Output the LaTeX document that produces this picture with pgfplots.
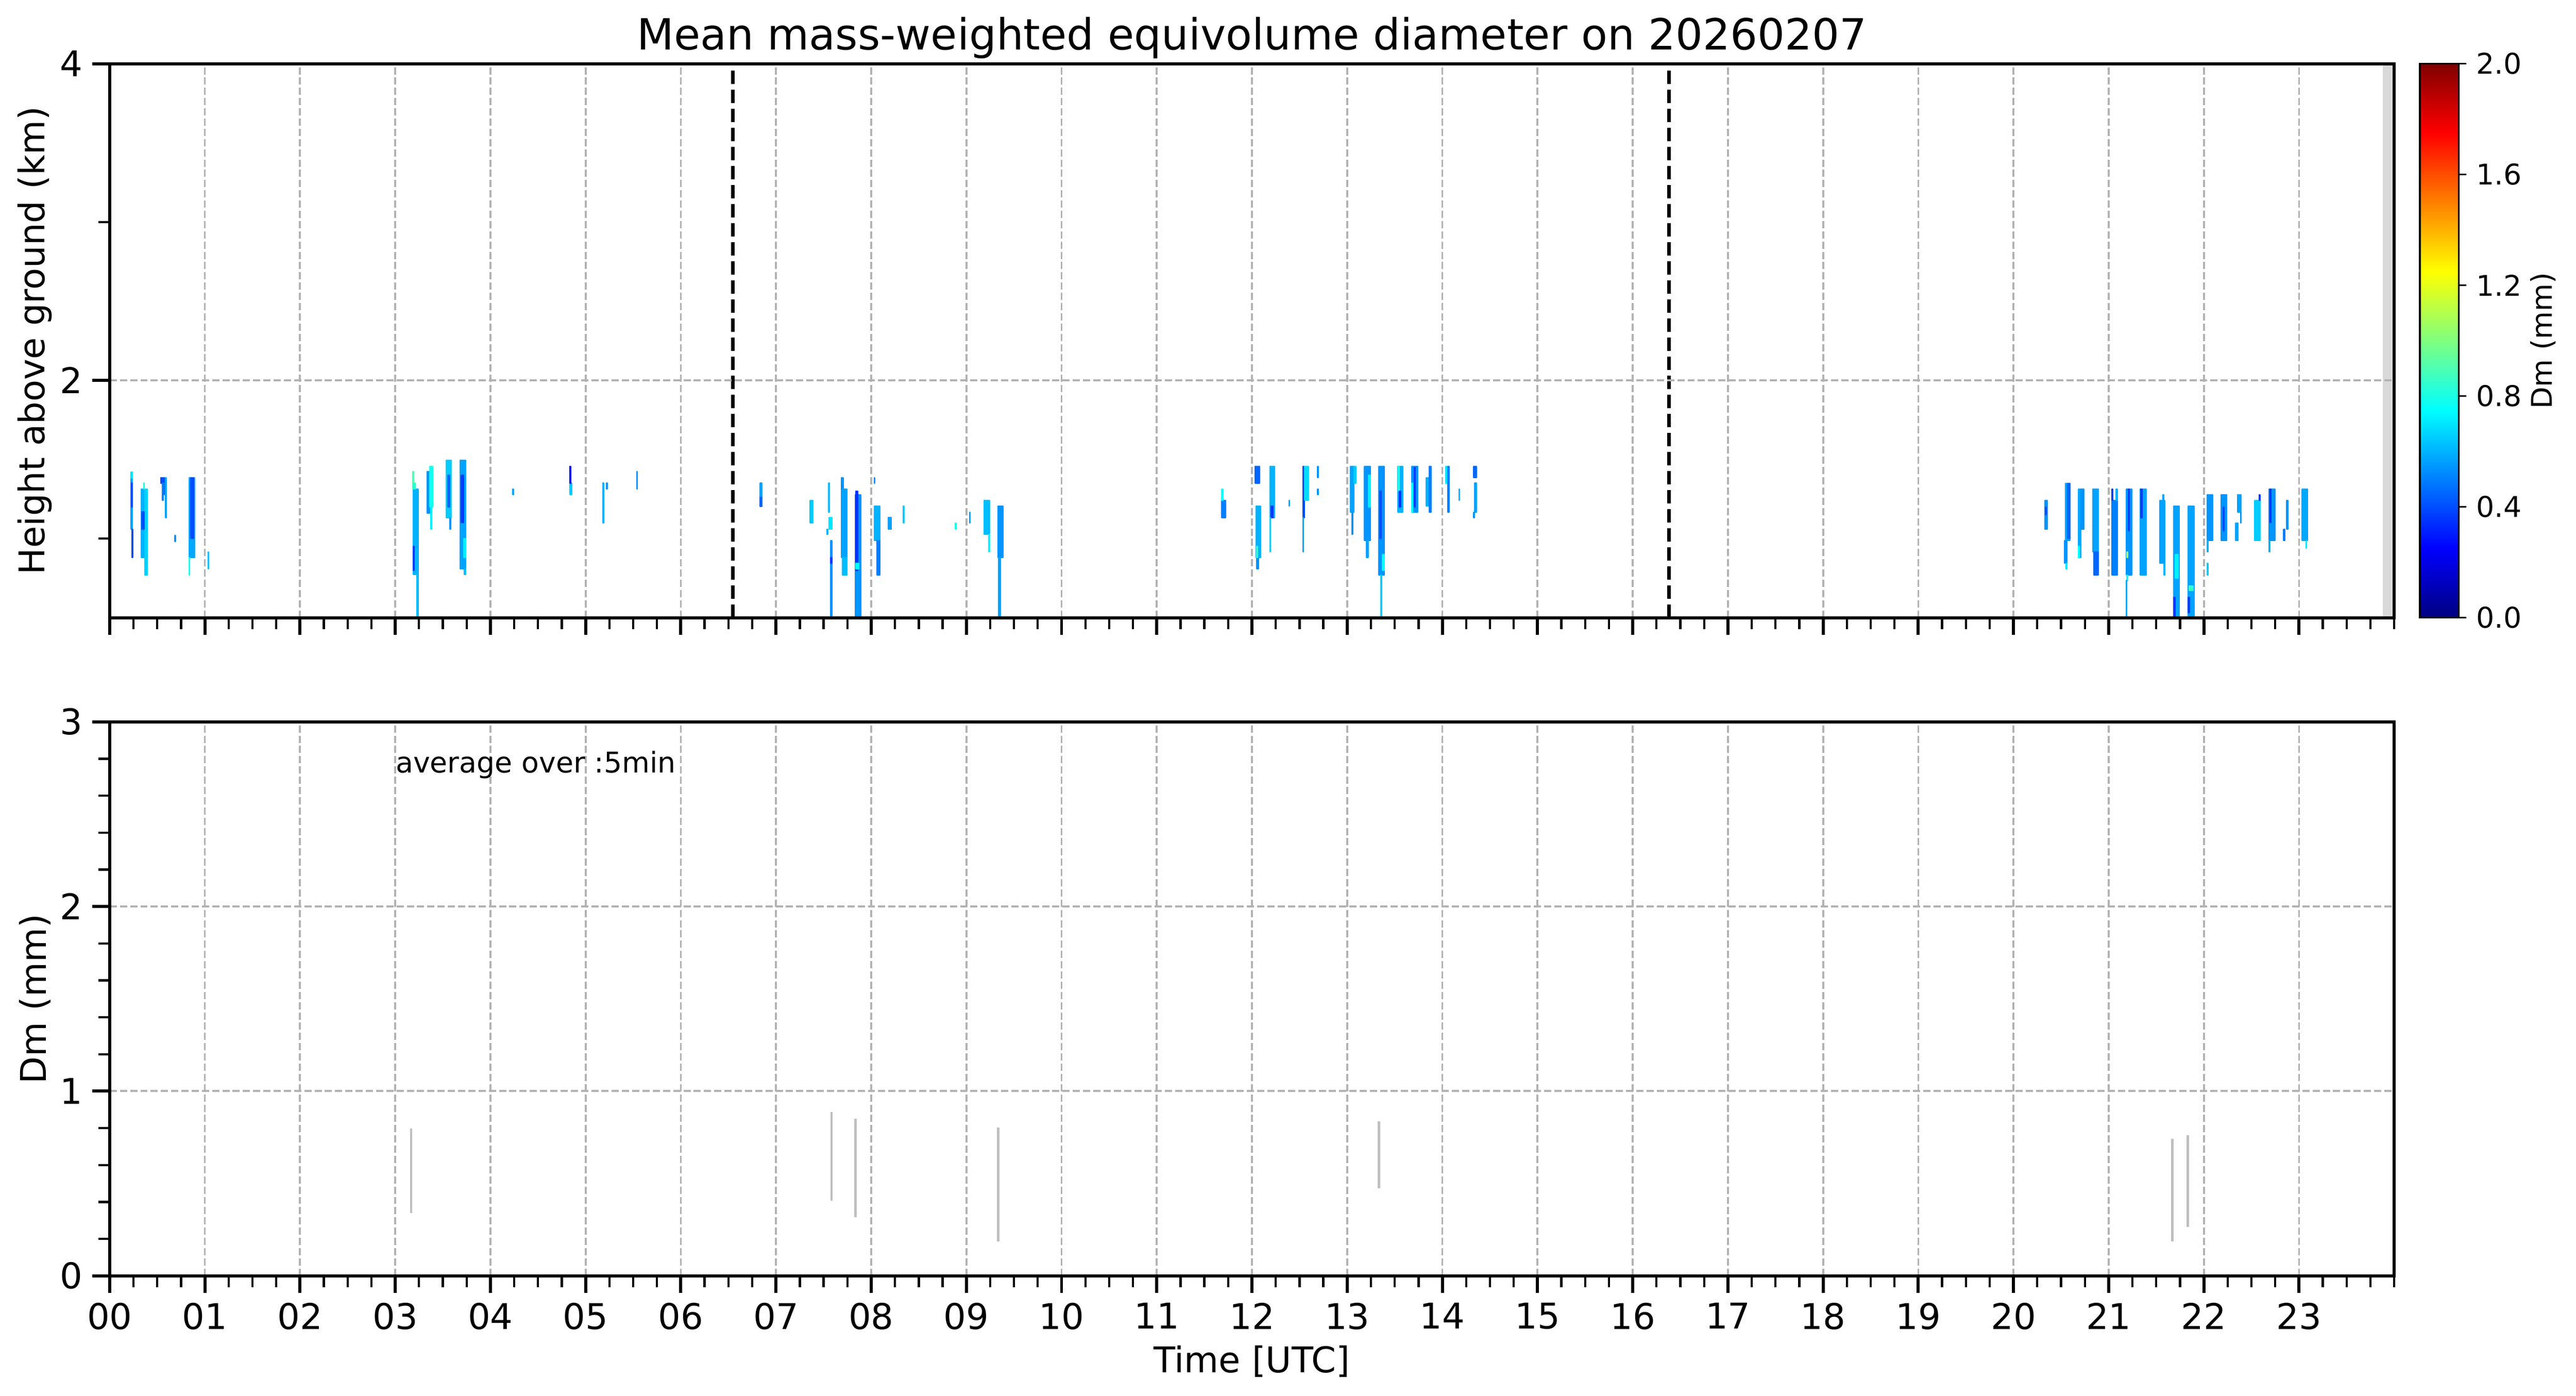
\documentclass[border=0pt]{standalone}
\usepackage{fontspec}
\setmainfont{DejaVu Sans}
\usepackage{pgfplots}
\pgfplotsset{compat=1.18}
\usepgfplotslibrary{patchplots}
\pgfplotsset{
  mybase/.style={
    scale only axis, width=825pt, height=200pt,
    xmin=0, xmax=24,
    xtick={0,1,...,23}, minor xtick={0,0.25,...,24},
    xtick pos=left, ytick pos=left,
    tick align=outside,
    major tick length=6.25pt, minor tick length=4.1pt,
    major tick style={line width=1.1pt, black},
    minor tick style={line width=0.8pt, black},
    axis line style={line width=1.1pt, black},
    xmajorgrids, ymajorgrids,
    major grid style={gray!60, line width=0.7pt, dash pattern=on 2.6pt off 1.1pt},
    tick label style={font=\fontsize{12.8}{15}\selectfont},
    /pgf/number format/assume math mode=true,
    every axis y label/.style={at={(axis description cs:-0.0327,0.5)}, rotate=90, anchor=center, font=\fontsize{12.8}{15}\selectfont},
    every axis x label/.style={at={(axis description cs:0.5,0)}, anchor=base, yshift=-34.9pt, font=\fontsize{12.8}{15}\selectfont},
  }
}
\begin{document}
\begin{tikzpicture}
\useasboundingbox (0,0) rectangle (930.25pt,503.9pt);
% ---------------- top panel ----------------
\begin{axis}[mybase,
  at={(39.6pt,280.9pt)}, anchor=south west,
  ymin=0.5, ymax=4, ytick={2,4}, minor ytick={1,3},
  xticklabels={},
  ylabel={Height above ground (km)},
  title={Mean mass-weighted equivolume diameter on 20260207},
  every axis title/.style={at={(axis description cs:0.5,1)}, anchor=base, yshift=5pt, font=\fontsize{15.5}{18}\selectfont},
  axis on top,
  colormap/jet, point meta min=0, point meta max=2,
  colorbar,
  colorbar style={
    at={(parent axis.north east)}, anchor=north west, xshift=0.71pt,
    scale only axis, width=14.1pt, height=200pt,
    ytick={0,0.4,0.8,1.2,1.6,2.0},
    ytick pos=right, yticklabel pos=right,
    tick align=outside, major tick length=2.7pt,
    major tick style={line width=0.6pt, black},
    axis line style={line width=0.6pt},
    yticklabel style={font=\fontsize{10.3}{12}\selectfont, /pgf/number format/.cd, fixed, fixed zerofill, precision=1, assume math mode=true},
    every axis y label/.style={at={(axis description cs:3.156,0.5)}, rotate=90, anchor=center, font=\fontsize{10.3}{12}\selectfont},
    ylabel={Dm (mm)},
  },
]
\addplot[draw=none, fill=gray!30, forget plot] coordinates {(23.88,0.5) (24,0.5) (24,4) (23.88,4)};
\addplot[patch, patch type=rectangle, shader=flat, point meta=explicit, forget plot] table[row sep=\\, meta=c] {
x y c\\
0.222 1.06 0.57\\ 0.241 1.06 0.57\\ 0.241 1.42 0.57\\ 0.222 1.42 0.57\\
0.222 1.38 0.70\\ 0.241 1.38 0.70\\ 0.241 1.42 0.70\\ 0.222 1.42 0.70\\
0.228 1.20 0.40\\ 0.238 1.20 0.40\\ 0.238 1.35 0.40\\ 0.228 1.35 0.40\\
0.234 0.88 0.40\\ 0.242 0.88 0.40\\ 0.242 1.06 0.40\\ 0.234 1.06 0.40\\
0.329 0.88 0.60\\ 0.371 0.88 0.60\\ 0.371 1.313 0.60\\ 0.329 1.313 0.60\\
0.371 0.77 0.66\\ 0.394 0.77 0.66\\ 0.394 1.313 0.66\\ 0.371 1.313 0.66\\
0.337 1.06 0.40\\ 0.364 1.06 0.40\\ 0.364 1.17 0.40\\ 0.337 1.17 0.40\\
0.356 1.313 0.80\\ 0.364 1.313 0.80\\ 0.364 1.35 0.80\\ 0.356 1.35 0.80\\
0.536 1.35 0.40\\ 0.582 1.35 0.40\\ 0.582 1.385 0.40\\ 0.536 1.385 0.40\\
0.555 1.24 0.50\\ 0.563 1.24 0.50\\ 0.563 1.35 0.50\\ 0.555 1.35 0.50\\
0.574 1.276 0.45\\ 0.582 1.276 0.45\\ 0.582 1.35 0.45\\ 0.574 1.35 0.45\\
0.586 1.132 0.57\\ 0.594 1.132 0.57\\ 0.594 1.385 0.57\\ 0.586 1.385 0.57\\
0.683 0.98 0.54\\ 0.691 0.98 0.54\\ 0.691 1.02 0.54\\ 0.683 1.02 0.54\\
0.834 0.88 0.58\\ 0.892 0.88 0.58\\ 0.892 1.385 0.58\\ 0.834 1.385 0.58\\
0.850 1.00 0.40\\ 0.880 1.00 0.40\\ 0.880 1.385 0.40\\ 0.850 1.385 0.40\\
0.834 0.77 0.80\\ 0.842 0.77 0.80\\ 0.842 0.88 0.80\\ 0.834 0.88 0.80\\
1.034 0.808 0.62\\ 1.042 0.808 0.62\\ 1.042 0.915 0.62\\ 1.034 0.915 0.62\\
3.188 0.771 0.60\\ 3.245 0.771 0.60\\ 3.245 1.313 0.60\\ 3.188 1.313 0.60\\
3.184 1.313 0.85\\ 3.210 1.313 0.85\\ 3.210 1.35 0.85\\ 3.184 1.35 0.85\\
3.184 1.35 0.90\\ 3.192 1.35 0.90\\ 3.192 1.422 0.90\\ 3.184 1.422 0.90\\
3.188 0.80 0.37\\ 3.200 0.80 0.37\\ 3.200 0.95 0.37\\ 3.188 0.95 0.37\\
3.229 0.51 0.62\\ 3.245 0.51 0.62\\ 3.245 0.771 0.62\\ 3.229 0.771 0.62\\
3.333 1.16 0.54\\ 3.360 1.16 0.54\\ 3.360 1.422 0.54\\ 3.333 1.422 0.54\\
3.360 1.20 0.78\\ 3.395 1.20 0.78\\ 3.395 1.457 0.78\\ 3.360 1.457 0.78\\
3.374 1.06 0.72\\ 3.382 1.06 0.72\\ 3.382 1.20 0.72\\ 3.374 1.20 0.72\\
3.536 1.13 0.65\\ 3.590 1.13 0.65\\ 3.590 1.494 0.65\\ 3.536 1.494 0.65\\
3.550 1.20 0.45\\ 3.575 1.20 0.45\\ 3.575 1.40 0.45\\ 3.550 1.40 0.45\\
3.574 1.06 0.54\\ 3.582 1.06 0.54\\ 3.582 1.13 0.54\\ 3.574 1.13 0.54\\
3.682 0.808 0.57\\ 3.743 0.808 0.57\\ 3.743 1.494 0.57\\ 3.682 1.494 0.57\\
3.695 1.10 0.37\\ 3.720 1.10 0.37\\ 3.720 1.40 0.37\\ 3.695 1.40 0.37\\
3.720 0.88 0.72\\ 3.743 0.88 0.72\\ 3.743 1.00 0.72\\ 3.720 1.00 0.72\\
3.725 0.771 0.62\\ 3.743 0.771 0.62\\ 3.743 0.808 0.62\\ 3.725 0.808 0.62\\
4.233 1.276 0.57\\ 4.241 1.276 0.57\\ 4.241 1.313 0.57\\ 4.233 1.313 0.57\\
4.834 1.276 0.65\\ 4.853 1.276 0.65\\ 4.853 1.35 0.65\\ 4.834 1.35 0.65\\
4.834 1.35 0.25\\ 4.845 1.35 0.25\\ 4.845 1.457 0.25\\ 4.834 1.457 0.25\\
5.180 1.097 0.60\\ 5.190 1.097 0.60\\ 5.190 1.35 0.60\\ 5.180 1.35 0.60\\
5.220 1.313 0.54\\ 5.228 1.313 0.54\\ 5.228 1.35 0.54\\ 5.220 1.35 0.54\\
5.537 1.313 0.54\\ 5.545 1.313 0.54\\ 5.545 1.422 0.54\\ 5.537 1.422 0.54\\
6.834 1.26 0.57\\ 6.850 1.26 0.57\\ 6.850 1.35 0.57\\ 6.834 1.35 0.57\\
6.834 1.203 0.45\\ 6.850 1.203 0.45\\ 6.850 1.26 0.45\\ 6.834 1.26 0.45\\
7.359 1.097 0.65\\ 7.389 1.097 0.65\\ 7.389 1.24 0.65\\ 7.359 1.24 0.65\\
7.554 1.165 0.62\\ 7.562 1.165 0.62\\ 7.562 1.35 0.62\\ 7.554 1.35 0.62\\
7.555 1.06 0.70\\ 7.589 1.06 0.70\\ 7.589 1.134 0.70\\ 7.555 1.134 0.70\\
7.535 1.025 0.60\\ 7.543 1.025 0.60\\ 7.543 1.06 0.60\\ 7.535 1.06 0.60\\
7.573 0.51 0.54\\ 7.589 0.51 0.54\\ 7.589 0.988 0.54\\ 7.573 0.988 0.54\\
7.573 0.845 0.37\\ 7.589 0.845 0.37\\ 7.589 0.88 0.37\\ 7.573 0.88 0.37\\
7.684 0.88 0.57\\ 7.745 0.88 0.57\\ 7.745 1.313 0.57\\ 7.684 1.313 0.57\\
7.684 1.313 0.54\\ 7.707 1.313 0.54\\ 7.707 1.385 0.54\\ 7.684 1.385 0.54\\
7.696 0.77 0.62\\ 7.745 0.77 0.62\\ 7.745 0.88 0.62\\ 7.696 0.88 0.62\\
7.833 0.51 0.54\\ 7.890 0.51 0.54\\ 7.890 1.278 0.54\\ 7.833 1.278 0.54\\
7.840 0.80 0.35\\ 7.860 0.80 0.35\\ 7.860 1.30 0.35\\ 7.840 1.30 0.35\\
7.840 0.808 0.75\\ 7.870 0.808 0.75\\ 7.870 0.845 0.75\\ 7.840 0.845 0.75\\
8.032 1.35 0.54\\ 8.040 1.35 0.54\\ 8.040 1.385 0.54\\ 8.032 1.385 0.54\\
8.032 0.988 0.60\\ 8.090 0.988 0.60\\ 8.090 1.205 0.60\\ 8.032 1.205 0.60\\
8.060 0.77 0.50\\ 8.090 0.77 0.50\\ 8.090 0.988 0.50\\ 8.060 0.988 0.50\\
8.180 1.06 0.57\\ 8.210 1.06 0.57\\ 8.210 1.134 0.57\\ 8.180 1.134 0.57\\
8.334 1.097 0.65\\ 8.346 1.097 0.65\\ 8.346 1.205 0.65\\ 8.334 1.205 0.65\\
8.883 1.06 0.80\\ 8.891 1.06 0.80\\ 8.891 1.097 0.80\\ 8.883 1.097 0.80\\
9.033 1.097 0.57\\ 9.041 1.097 0.57\\ 9.041 1.167 0.57\\ 9.033 1.167 0.57\\
9.184 1.025 0.62\\ 9.245 1.025 0.62\\ 9.245 1.24 0.62\\ 9.184 1.24 0.62\\
9.237 0.915 0.72\\ 9.245 0.915 0.72\\ 9.245 1.025 0.72\\ 9.237 1.025 0.72\\
9.330 0.88 0.54\\ 9.383 0.88 0.54\\ 9.383 1.205 0.54\\ 9.330 1.205 0.54\\
9.335 0.51 0.57\\ 9.360 0.51 0.57\\ 9.360 0.88 0.57\\ 9.335 0.88 0.57\\
11.683 1.132 0.50\\ 11.725 1.132 0.50\\ 11.725 1.24 0.50\\ 11.683 1.24 0.50\\
11.683 1.24 0.75\\ 11.695 1.24 0.75\\ 11.695 1.313 0.75\\ 11.683 1.313 0.75\\
12.034 1.35 0.45\\ 12.080 1.35 0.45\\ 12.080 1.457 0.45\\ 12.034 1.457 0.45\\
12.045 0.88 0.60\\ 12.091 0.88 0.60\\ 12.091 1.205 0.60\\ 12.045 1.205 0.60\\
12.050 0.808 0.54\\ 12.070 0.808 0.54\\ 12.070 0.88 0.54\\ 12.050 0.88 0.54\\
12.050 0.88 0.85\\ 12.058 0.88 0.85\\ 12.058 0.95 0.85\\ 12.050 0.95 0.85\\
12.187 1.132 0.60\\ 12.237 1.132 0.60\\ 12.237 1.457 0.60\\ 12.187 1.457 0.60\\
12.200 1.132 0.37\\ 12.220 1.132 0.37\\ 12.220 1.205 0.37\\ 12.200 1.205 0.37\\
12.187 0.915 0.65\\ 12.195 0.915 0.65\\ 12.195 1.132 0.65\\ 12.187 1.132 0.65\\
12.388 1.205 0.57\\ 12.396 1.205 0.57\\ 12.396 1.24 0.57\\ 12.388 1.24 0.57\\
12.535 1.132 0.40\\ 12.550 1.132 0.40\\ 12.550 1.457 0.40\\ 12.535 1.457 0.40\\
12.550 1.24 0.68\\ 12.597 1.24 0.68\\ 12.597 1.457 0.68\\ 12.550 1.457 0.68\\
12.535 0.915 0.57\\ 12.543 0.915 0.57\\ 12.543 1.132 0.57\\ 12.535 1.132 0.57\\
12.690 1.385 0.54\\ 12.698 1.385 0.54\\ 12.698 1.457 0.54\\ 12.690 1.457 0.54\\
12.690 1.276 0.54\\ 12.698 1.276 0.54\\ 12.698 1.313 0.54\\ 12.690 1.313 0.54\\
13.033 1.167 0.57\\ 13.070 1.167 0.57\\ 13.070 1.457 0.57\\ 13.033 1.457 0.57\\
13.070 1.35 0.65\\ 13.090 1.35 0.65\\ 13.090 1.457 0.65\\ 13.070 1.457 0.65\\
13.050 1.025 0.54\\ 13.058 1.025 0.54\\ 13.058 1.167 0.54\\ 13.050 1.167 0.54\\
13.182 0.988 0.54\\ 13.243 0.988 0.54\\ 13.243 1.457 0.54\\ 13.182 1.457 0.54\\
13.200 0.88 0.57\\ 13.220 0.88 0.57\\ 13.220 0.988 0.57\\ 13.200 0.988 0.57\\
13.225 1.20 0.72\\ 13.243 1.20 0.72\\ 13.243 1.40 0.72\\ 13.225 1.40 0.72\\
13.331 0.77 0.54\\ 13.389 0.77 0.54\\ 13.389 1.457 0.54\\ 13.331 1.457 0.54\\
13.340 1.00 0.40\\ 13.360 1.00 0.40\\ 13.360 1.30 0.40\\ 13.340 1.30 0.40\\
13.370 0.80 0.75\\ 13.389 0.80 0.75\\ 13.389 0.90 0.75\\ 13.370 0.90 0.75\\
13.354 0.51 0.65\\ 13.362 0.51 0.65\\ 13.362 0.77 0.65\\ 13.354 0.77 0.65\\
13.530 1.165 0.60\\ 13.587 1.165 0.60\\ 13.587 1.457 0.60\\ 13.530 1.457 0.60\\
13.535 1.30 0.82\\ 13.550 1.30 0.82\\ 13.550 1.457 0.82\\ 13.535 1.457 0.82\\
13.550 1.20 0.35\\ 13.565 1.20 0.35\\ 13.565 1.30 0.35\\ 13.550 1.30 0.35\\
13.679 1.165 0.54\\ 13.741 1.165 0.54\\ 13.741 1.457 0.54\\ 13.679 1.457 0.54\\
13.705 1.20 0.37\\ 13.713 1.20 0.37\\ 13.713 1.45 0.37\\ 13.705 1.45 0.37\\
13.679 1.165 0.75\\ 13.690 1.165 0.75\\ 13.690 1.35 0.75\\ 13.679 1.35 0.75\\
13.832 1.205 0.60\\ 13.855 1.205 0.60\\ 13.855 1.385 0.60\\ 13.832 1.385 0.60\\
13.862 1.165 0.50\\ 13.882 1.165 0.50\\ 13.882 1.457 0.50\\ 13.862 1.457 0.50\\
14.035 1.35 0.70\\ 14.050 1.35 0.70\\ 14.050 1.457 0.70\\ 14.035 1.457 0.70\\
14.055 1.165 0.50\\ 14.070 1.165 0.50\\ 14.070 1.457 0.50\\ 14.055 1.457 0.50\\
14.175 1.24 0.60\\ 14.183 1.24 0.60\\ 14.183 1.313 0.60\\ 14.175 1.313 0.60\\
14.330 1.385 0.45\\ 14.360 1.385 0.45\\ 14.360 1.457 0.45\\ 14.330 1.457 0.45\\
14.340 1.165 0.57\\ 14.360 1.165 0.57\\ 14.360 1.35 0.57\\ 14.340 1.35 0.57\\
14.330 1.132 0.54\\ 14.338 1.132 0.54\\ 14.338 1.165 0.54\\ 14.330 1.165 0.54\\
20.331 1.06 0.54\\ 20.357 1.06 0.54\\ 20.357 1.24 0.54\\ 20.331 1.24 0.54\\
20.335 1.15 0.40\\ 20.343 1.15 0.40\\ 20.343 1.20 0.40\\ 20.335 1.20 0.40\\
20.545 0.988 0.57\\ 20.595 0.988 0.57\\ 20.595 1.349 0.57\\ 20.545 1.349 0.57\\
20.570 1.00 0.45\\ 20.595 1.00 0.45\\ 20.595 1.349 0.45\\ 20.570 1.349 0.45\\
20.534 0.845 0.54\\ 20.560 0.845 0.54\\ 20.560 0.988 0.54\\ 20.534 0.988 0.54\\
20.552 0.808 0.70\\ 20.560 0.808 0.70\\ 20.560 0.845 0.70\\ 20.552 0.845 0.70\\
20.683 0.88 0.58\\ 20.710 0.88 0.58\\ 20.710 1.313 0.58\\ 20.683 1.313 0.58\\
20.710 1.06 0.54\\ 20.740 1.06 0.54\\ 20.740 1.313 0.54\\ 20.710 1.313 0.54\\
20.683 0.88 0.75\\ 20.691 0.88 0.75\\ 20.691 0.95 0.75\\ 20.683 0.95 0.75\\
20.832 0.915 0.57\\ 20.893 0.915 0.57\\ 20.893 1.313 0.57\\ 20.832 1.313 0.57\\
20.845 0.77 0.45\\ 20.893 0.77 0.45\\ 20.893 0.915 0.45\\ 20.845 0.915 0.45\\
21.035 0.77 0.50\\ 21.090 0.77 0.50\\ 21.090 1.24 0.50\\ 21.035 1.24 0.50\\
21.035 1.24 0.37\\ 21.045 1.24 0.37\\ 21.045 1.313 0.37\\ 21.035 1.313 0.37\\
21.075 1.24 0.60\\ 21.090 1.24 0.60\\ 21.090 1.313 0.60\\ 21.075 1.313 0.60\\
21.184 0.77 0.54\\ 21.245 0.77 0.54\\ 21.245 1.313 0.54\\ 21.184 1.313 0.54\\
21.205 1.05 0.37\\ 21.215 1.05 0.37\\ 21.215 1.313 0.37\\ 21.205 1.313 0.37\\
21.190 0.88 1.10\\ 21.200 0.88 1.10\\ 21.200 0.915 1.10\\ 21.190 0.915 1.10\\
21.190 0.735 0.75\\ 21.200 0.735 0.75\\ 21.200 0.77 0.75\\ 21.190 0.77 0.75\\
21.186 0.51 0.57\\ 21.192 0.51 0.57\\ 21.192 0.735 0.57\\ 21.186 0.735 0.57\\
21.330 0.77 0.57\\ 21.395 0.77 0.57\\ 21.395 1.313 0.57\\ 21.330 1.313 0.57\\
21.335 1.132 0.37\\ 21.350 1.132 0.37\\ 21.350 1.313 0.37\\ 21.335 1.313 0.37\\
21.536 0.845 0.57\\ 21.590 0.845 0.57\\ 21.590 1.24 0.57\\ 21.536 1.24 0.57\\
21.570 1.24 0.57\\ 21.580 1.24 0.57\\ 21.580 1.278 0.57\\ 21.570 1.278 0.57\\
21.580 0.77 0.60\\ 21.590 0.77 0.60\\ 21.590 0.845 0.60\\ 21.580 0.845 0.60\\
21.682 0.51 0.57\\ 21.743 0.51 0.57\\ 21.743 1.205 0.57\\ 21.682 1.205 0.57\\
21.682 0.51 0.37\\ 21.700 0.51 0.37\\ 21.700 0.63 0.37\\ 21.682 0.63 0.37\\
21.700 0.75 0.72\\ 21.730 0.75 0.72\\ 21.730 0.90 0.72\\ 21.700 0.90 0.72\\
21.835 0.51 0.57\\ 21.896 0.51 0.57\\ 21.896 1.205 0.57\\ 21.835 1.205 0.57\\
21.845 0.67 0.85\\ 21.885 0.67 0.85\\ 21.885 0.70 0.85\\ 21.845 0.70 0.85\\
21.835 0.53 0.37\\ 21.850 0.53 0.37\\ 21.850 0.63 0.37\\ 21.835 0.63 0.37\\
22.034 0.988 0.54\\ 22.095 0.988 0.54\\ 22.095 1.278 0.54\\ 22.034 1.278 0.54\\
22.034 0.915 0.60\\ 22.045 0.915 0.60\\ 22.045 0.988 0.60\\ 22.034 0.988 0.60\\
22.034 0.77 0.65\\ 22.045 0.77 0.65\\ 22.045 0.845 0.65\\ 22.034 0.845 0.65\\
22.183 0.988 0.54\\ 22.240 0.988 0.54\\ 22.240 1.278 0.54\\ 22.183 1.278 0.54\\
22.200 1.05 0.40\\ 22.215 1.05 0.40\\ 22.215 1.20 0.40\\ 22.200 1.20 0.40\\
22.355 1.167 0.57\\ 22.393 1.167 0.57\\ 22.393 1.278 0.57\\ 22.355 1.278 0.57\\
22.332 0.988 0.57\\ 22.360 0.988 0.57\\ 22.360 1.097 0.57\\ 22.332 1.097 0.57\\
22.385 1.097 0.54\\ 22.393 1.097 0.54\\ 22.393 1.167 0.54\\ 22.385 1.167 0.54\\
22.535 0.988 0.65\\ 22.589 0.988 0.65\\ 22.589 1.24 0.65\\ 22.535 1.24 0.65\\
22.580 1.24 0.37\\ 22.589 1.24 0.37\\ 22.589 1.278 0.37\\ 22.580 1.278 0.37\\
22.684 0.988 0.54\\ 22.746 0.988 0.54\\ 22.746 1.313 0.54\\ 22.684 1.313 0.54\\
22.695 1.10 0.35\\ 22.705 1.10 0.35\\ 22.705 1.313 0.35\\ 22.695 1.313 0.35\\
22.684 0.915 0.60\\ 22.692 0.915 0.60\\ 22.692 0.988 0.60\\ 22.684 0.988 0.60\\
22.870 1.06 0.54\\ 22.885 1.06 0.54\\ 22.885 1.24 0.54\\ 22.870 1.24 0.54\\
22.838 0.988 0.50\\ 22.850 0.988 0.50\\ 22.850 1.06 0.50\\ 22.838 1.06 0.50\\
23.033 0.988 0.58\\ 23.090 0.988 0.58\\ 23.090 1.313 0.58\\ 23.033 1.313 0.58\\
23.073 0.94 0.70\\ 23.081 0.94 0.70\\ 23.081 0.988 0.70\\ 23.073 0.988 0.70\\
};
\addplot[black, line width=1.3pt, dash pattern=on 4.8pt off 2.08pt, forget plot] coordinates {(6.547,0.5) (6.547,4)};
\addplot[black, line width=1.3pt, dash pattern=on 4.8pt off 2.08pt, forget plot] coordinates {(16.381,0.5) (16.381,4)};
\end{axis}
% ---------------- bottom panel ----------------
\begin{axis}[mybase,
  at={(39.6pt,43.3pt)}, anchor=south west,
  ymin=0, ymax=3, ytick={0,1,2,3}, minor ytick={0.2,0.4,0.6,0.8,1.2,1.4,1.6,1.8,2.2,2.4,2.6,2.8},
  xticklabels={00,01,02,03,04,05,06,07,08,09,10,11,12,13,14,15,16,17,18,19,20,21,22,23},
  ylabel={Dm (mm)},
  xlabel={Time [UTC]},
  unbounded coords=jump,
]
\addplot[gray!50, line width=0.9pt] coordinates {
(3.1667,0.341) (3.1667,0.797) (nan,nan)
(7.5833,0.408) (7.5833,0.888) (nan,nan)
(7.8333,0.317) (7.8333,0.849) (nan,nan)
(9.3333,0.187) (9.3333,0.802) (nan,nan)
(13.3333,0.475) (13.3333,0.836) (nan,nan)
(21.6667,0.187) (21.6667,0.742) (nan,nan)
(21.8333,0.264) (21.8333,0.762)
};
\node[anchor=base west, inner sep=0pt, font=\fontsize{10.3}{12}\selectfont] at (axis cs:3.0,2.724) {average over :5min};
\end{axis}
\end{tikzpicture}
\end{document}
